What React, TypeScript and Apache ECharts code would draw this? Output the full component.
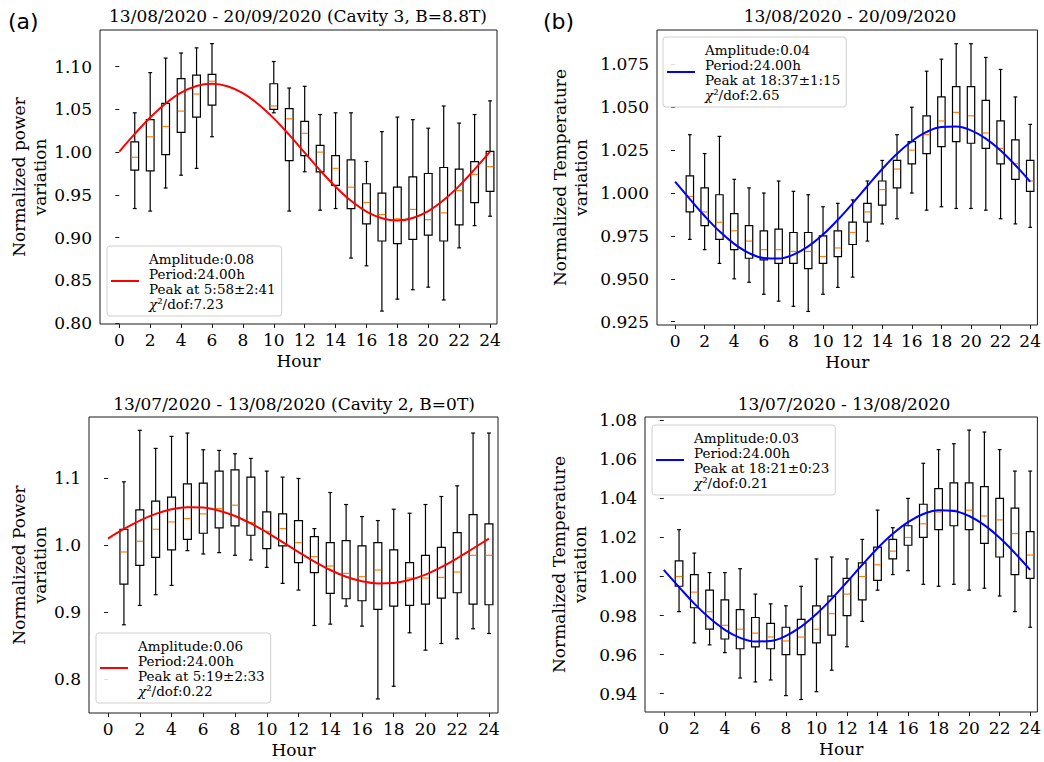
import React, { useEffect, useRef } from "react";
import * as echarts from "echarts";

// ---------- data ----------
const hoursA = [1, 2, 3, 4, 5, 6, 10, 11, 12, 13, 14, 15, 16, 17, 18, 19, 20, 21, 22, 23, 24];
// [low whisker, Q1, median, Q3, high whisker]
const statsA = [
  [0.934, 0.979, 0.994, 1.012, 1.046],
  [0.931, 0.978, 1.018, 1.038, 1.093],
  [0.958, 0.997, 1.030, 1.057, 1.110],
  [0.973, 1.023, 1.048, 1.086, 1.116],
  [0.981, 1.041, 1.068, 1.090, 1.122],
  [1.018, 1.055, 1.083, 1.091, 1.127],
  [1.046, 1.050, 1.054, 1.080, 1.106],
  [0.931, 0.990, 1.039, 1.051, 1.075],
  [0.977, 0.996, 1.022, 1.036, 1.077],
  [0.932, 0.977, 1.000, 1.008, 1.044],
  [0.934, 0.961, 0.981, 0.996, 1.046],
  [0.876, 0.934, 0.959, 0.991, 1.046],
  [0.867, 0.916, 0.941, 0.963, 0.989],
  [0.814, 0.896, 0.927, 0.952, 1.024],
  [0.828, 0.893, 0.922, 0.959, 1.041],
  [0.839, 0.898, 0.933, 0.971, 1.038],
  [0.842, 0.903, 0.921, 0.975, 1.028],
  [0.827, 0.896, 0.929, 0.982, 1.054],
  [0.888, 0.915, 0.955, 0.980, 1.034],
  [0.914, 0.941, 0.974, 0.989, 1.044],
  [0.925, 0.954, 0.983, 1.001, 1.060],
];

const hoursAll = [1, 2, 3, 4, 5, 6, 7, 8, 9, 10, 11, 12, 13, 14, 15, 16, 17, 18, 19, 20, 21, 22, 23, 24];
const statsB = [
  [0.973, 0.989, 0.998, 1.010, 1.034],
  [0.967, 0.981, 0.989, 1.003, 1.023],
  [0.959, 0.973, 0.983, 0.999, 1.033],
  [0.950, 0.967, 0.978, 0.988, 1.008],
  [0.948, 0.962, 0.972, 0.981, 1.003],
  [0.941, 0.961, 0.967, 0.978, 1.000],
  [0.937, 0.959, 0.967, 0.979, 1.007],
  [0.934, 0.959, 0.966, 0.977, 1.001],
  [0.931, 0.956, 0.966, 0.977, 0.999],
  [0.941, 0.959, 0.963, 0.975, 0.992],
  [0.945, 0.963, 0.968, 0.978, 0.994],
  [0.951, 0.970, 0.977, 0.983, 0.996],
  [0.972, 0.983, 0.989, 0.994, 1.007],
  [0.982, 0.993, 1.002, 1.007, 1.019],
  [0.985, 1.003, 1.014, 1.019, 1.034],
  [1.000, 1.017, 1.025, 1.030, 1.050],
  [0.990, 1.023, 1.034, 1.045, 1.071],
  [0.992, 1.027, 1.042, 1.056, 1.078],
  [0.991, 1.030, 1.047, 1.062, 1.087],
  [0.991, 1.029, 1.045, 1.062, 1.087],
  [0.990, 1.026, 1.035, 1.054, 1.079],
  [0.985, 1.017, 1.026, 1.042, 1.072],
  [0.982, 1.008, 1.017, 1.031, 1.056],
  [0.980, 1.001, 1.007, 1.019, 1.040],
];

const statsC = [
  [0.881, 0.942, 0.990, 1.024, 1.095],
  [0.910, 0.970, 1.006, 1.053, 1.172],
  [0.926, 0.982, 1.024, 1.066, 1.145],
  [0.940, 0.993, 1.035, 1.072, 1.163],
  [0.992, 1.009, 1.040, 1.092, 1.168],
  [0.987, 1.018, 1.047, 1.093, 1.143],
  [0.989, 1.026, 1.055, 1.111, 1.142],
  [0.985, 1.029, 1.060, 1.113, 1.137],
  [0.978, 1.015, 1.034, 1.102, 1.130],
  [0.967, 0.995, 1.021, 1.050, 1.111],
  [0.943, 0.999, 1.025, 1.047, 1.102],
  [0.933, 0.974, 1.004, 1.037, 1.100],
  [0.880, 0.959, 0.983, 1.013, 1.025],
  [0.882, 0.928, 0.969, 1.004, 1.079],
  [0.909, 0.920, 0.958, 1.007, 1.061],
  [0.879, 0.917, 0.953, 0.999, 1.043],
  [0.770, 0.904, 0.963, 1.004, 1.037],
  [0.789, 0.909, 0.944, 0.993, 1.054],
  [0.869, 0.910, 0.951, 0.974, 1.048],
  [0.843, 0.912, 0.951, 0.985, 1.061],
  [0.853, 0.921, 0.952, 0.997, 1.073],
  [0.860, 0.929, 0.960, 1.019, 1.089],
  [0.875, 0.912, 0.985, 1.046, 1.168],
  [0.868, 0.911, 0.985, 1.032, 1.168],
];

const statsD = [
  [0.982, 0.995, 1.000, 1.008, 1.024],
  [0.966, 0.984, 0.992, 1.001, 1.012],
  [0.965, 0.973, 0.982, 0.993, 1.002],
  [0.961, 0.968, 0.975, 0.988, 1.002],
  [0.948, 0.963, 0.973, 0.983, 1.004],
  [0.946, 0.964, 0.971, 0.979, 0.991],
  [0.947, 0.963, 0.969, 0.976, 0.986],
  [0.939, 0.960, 0.967, 0.974, 0.985],
  [0.937, 0.960, 0.969, 0.978, 0.995],
  [0.941, 0.966, 0.973, 0.985, 1.009],
  [0.952, 0.970, 0.981, 0.990, 1.010],
  [0.964, 0.980, 0.991, 0.999, 1.009],
  [0.977, 0.988, 1.000, 1.007, 1.019],
  [0.993, 0.998, 1.006, 1.015, 1.034],
  [1.001, 1.009, 1.013, 1.019, 1.025],
  [1.003, 1.016, 1.020, 1.026, 1.040],
  [0.996, 1.020, 1.027, 1.037, 1.058],
  [0.995, 1.024, 1.033, 1.045, 1.065],
  [0.996, 1.026, 1.034, 1.048, 1.068],
  [0.993, 1.024, 1.034, 1.048, 1.075],
  [0.994, 1.017, 1.031, 1.046, 1.074],
  [0.990, 1.010, 1.029, 1.040, 1.065],
  [0.982, 1.001, 1.022, 1.035, 1.054],
  [0.974, 0.999, 1.011, 1.023, 1.054],
];

// fitted sine curves, read at each hour
const fitHours = [0, 1, 2, 3, 4, 5, 6, 7, 8, 9, 10, 11, 12, 13, 14, 15, 16, 17, 18, 19, 20, 21, 22, 23, 24];
const fitA = [1.0006, 1.0213, 1.0405, 1.0570, 1.0696, 1.0774, 1.0800, 1.0771, 1.0690, 1.0561, 1.0395, 1.0201, 0.9994, 0.9787, 0.9595, 0.9430, 0.9304, 0.9226, 0.9200, 0.9229, 0.9310, 0.9439, 0.9605, 0.9799, 1.0006];
const fitB = [1.0066, 0.9965, 0.9866, 0.9777, 0.9704, 0.9650, 0.9621, 0.9618, 0.9641, 0.9689, 0.9758, 0.9844, 0.9940, 1.0041, 1.0140, 1.0229, 1.0302, 1.0356, 1.0385, 1.0388, 1.0365, 1.0317, 1.0248, 1.0162, 1.0066];
const fitC = [1.0101, 1.0244, 1.0370, 1.0470, 1.0539, 1.0571, 1.0564, 1.0518, 1.0438, 1.0327, 1.0194, 1.0048, 0.9899, 0.9756, 0.9630, 0.9530, 0.9461, 0.9429, 0.9436, 0.9482, 0.9562, 0.9673, 0.9806, 0.9952, 1.0101];
const fitD = [1.0034, 0.9946, 0.9861, 0.9787, 0.9727, 0.9686, 0.9667, 0.9670, 0.9696, 0.9743, 0.9808, 0.9886, 0.9972, 1.0060, 1.0145, 1.0219, 1.0279, 1.0320, 1.0340, 1.0336, 1.0310, 1.0263, 1.0198, 1.0120, 1.0034];

const xTicks = [0, 2, 4, 6, 8, 10, 12, 14, 16, 18, 20, 22, 24];
const yTicksA = [0.8, 0.85, 0.9, 0.95, 1.0, 1.05, 1.1];
const yTicksB = [0.925, 0.95, 0.975, 1.0, 1.025, 1.05, 1.075];
const yTicksC = [0.8, 0.9, 1.0, 1.1];
const yTicksD = [0.94, 0.96, 0.98, 1.0, 1.02, 1.04, 1.06, 1.08];

const titles = [
  "13/08/2020 - 20/09/2020 (Cavity 3, B=8.8T)",
  "13/08/2020 - 20/09/2020",
  "13/07/2020 - 13/08/2020 (Cavity 2, B=0T)",
  "13/07/2020 - 13/08/2020",
];
const yNames = [
  "Normalized power\nvariation",
  "Normalized Temperature\nvariation",
  "Normalized Power\nvariation",
  "Normalized Temperature\nvariation",
];
const legendTexts = [
  ["Amplitude:0.08", "Period:24.00h", "Peak at 5:58±2:41", "χ²/dof:7.23"],
  ["Amplitude:0.04", "Period:24.00h", "Peak at 18:37±1:15", "χ²/dof:2.65"],
  ["Amplitude:0.06", "Period:24.00h", "Peak at 5:19±2:33", "χ²/dof:0.22"],
  ["Amplitude:0.03", "Period:24.00h", "Peak at 18:21±0:23", "χ²/dof:0.21"],
];

// ---------- layout ----------
const SERIF = '"DejaVu Serif", serif';
const panels = [
  { grid: [100, 30, 397, 294], x: [-1.25, 24.45], y: [0.7989, 1.1429], yt: yTicksA, dec: 2, hours: hoursA, stats: statsA, fit: fitA, color: "#ff0000", nameGap: 42, legend: [107, 246], title: [298, 16] },
  { grid: [657, 30, 385, 295], x: [-1.22, 24.49], y: [0.9231, 1.095], yt: yTicksB, dec: 3, hours: hoursAll, stats: statsB, fit: fitB, color: "#0000ff", nameGap: 66, legend: [663, 37], title: [850, 16] },
  { grid: [89, 417, 409, 296], x: [-1.2, 24.57], y: [0.749, 1.192], yt: yTicksC, dec: 1, hours: hoursAll, stats: statsC, fit: fitC, color: "#ff0000", nameGap: 31, legend: [96, 633], title: [294, 404] },
  { grid: [645, 417, 398, 295], x: [-1.23, 24.47], y: [0.9306, 1.0817], yt: yTicksD, dec: 2, hours: hoursAll, stats: statsD, fit: fitD, color: "#0000ff", nameGap: 55, legend: [652, 425], title: [844, 404] },
];

const renderBox = (params: any, api: any) => {
  const x = api.value(0);
  const pLo = api.coord([x, api.value(1)]);
  const pQ1 = api.coord([x, api.value(2)]);
  const pMed = api.coord([x, api.value(3)]);
  const pQ3 = api.coord([x, api.value(4)]);
  const pHi = api.coord([x, api.value(5)]);
  const w = api.size([0.5, 0])[0];
  const cw = w / 2;
  const cx = pMed[0];
  const st = { stroke: "#000", lineWidth: 1.2 };
  return {
    type: "group",
    children: [
      { type: "line", shape: { x1: cx, y1: pLo[1], x2: cx, y2: pQ1[1] }, style: st },
      { type: "line", shape: { x1: cx, y1: pQ3[1], x2: cx, y2: pHi[1] }, style: st },
      { type: "line", shape: { x1: cx - cw / 2, y1: pLo[1], x2: cx + cw / 2, y2: pLo[1] }, style: st },
      { type: "line", shape: { x1: cx - cw / 2, y1: pHi[1], x2: cx + cw / 2, y2: pHi[1] }, style: st },
      { type: "rect", shape: { x: cx - w / 2, y: pQ3[1], width: w, height: pQ1[1] - pQ3[1] }, style: { stroke: "#000", lineWidth: 1.2, fill: "none" } },
      { type: "line", shape: { x1: cx - w / 2 + 0.6, y1: pMed[1], x2: cx + w / 2 - 0.6, y2: pMed[1] }, style: { stroke: "#ff7f0e", lineWidth: 1.2 } },
    ],
  };
};

export default function App() {
  const ref = useRef<HTMLDivElement>(null);
  useEffect(() => {
    document.body.style.margin = "0";
    if (!ref.current) return;
    const chart = echarts.init(ref.current, undefined, { renderer: "svg" });
    const fitNames = ["fitA", "fitB", "fitC", "fitD"];
    const option: any = {
      animation: false,
      backgroundColor: "#ffffff",
      grid: panels.map((p) => ({ left: p.grid[0], top: p.grid[1], width: p.grid[2], height: p.grid[3], show: true, borderColor: "#1a1a1a", borderWidth: 1 })),
      xAxis: panels.map((p, i) => ({
        type: "value",
        gridIndex: i,
        min: p.x[0],
        max: p.x[1],
        name: "Hour",
        nameLocation: "middle",
        nameGap: 28,
        nameTextStyle: { fontFamily: SERIF, fontSize: 17, color: "#000" },
        axisLine: { show: false },
        axisTick: { show: true, length: 4, customValues: xTicks, lineStyle: { color: "#1a1a1a" } },
        axisLabel: { customValues: xTicks, formatter: (v: number) => String(Math.round(v)), fontFamily: SERIF, fontSize: 17, color: "#000", margin: 7 },
        splitLine: { show: false },
      })),
      yAxis: panels.map((p, i) => ({
        type: "value",
        gridIndex: i,
        min: p.y[0],
        max: p.y[1],
        name: yNames[i],
        nameLocation: "middle",
        nameGap: p.nameGap,
        nameTextStyle: { fontFamily: SERIF, fontSize: 17, lineHeight: 21, color: "#000" },
        axisLine: { show: false },
        axisTick: { show: true, length: 4, customValues: p.yt, lineStyle: { color: "#1a1a1a" } },
        axisLabel: { customValues: p.yt, formatter: (v: number) => v.toFixed(p.dec), fontFamily: SERIF, fontSize: 17, color: "#000", margin: 8 },
        splitLine: { show: false },
      })),
      legend: panels.map((p, i) => ({
        data: [{ name: fitNames[i], icon: "rect" }],
        left: p.legend[0],
        top: p.legend[1],
        orient: "vertical",
        padding: [5, 6, 5, 4],
        itemWidth: 28,
        itemHeight: 2,
        borderColor: "#cfcfcf",
        borderWidth: 1,
        borderRadius: 3,
        backgroundColor: "rgba(255,255,255,0.85)",
        selectedMode: false,
        formatter: () => {
          const t = legendTexts[i];
          return t[0] + "\n" + t[1] + "\n" + t[2] + "\n{g|χ}" + t[3].slice(1);
        },
        textStyle: {
          fontFamily: SERIF,
          fontSize: 13.5,
          lineHeight: 15,
          color: "#000",
          padding: [0, 0, 0, 5],
          rich: { g: { fontFamily: SERIF, fontSize: 13.5, fontStyle: "italic", lineHeight: 15, color: "#000" } },
        },
      })),
      graphic: [
        ...panels.map((p, i) => ({
          type: "text",
          x: p.title[0],
          y: p.title[1],
          style: { text: titles[i], font: '17px "DejaVu Serif"', fill: "#000", align: "center", verticalAlign: "middle" },
        })),
        { type: "text", x: 8, y: 21, style: { text: "(a)", font: '22px "DejaVu Sans"', fill: "#000", align: "left", verticalAlign: "middle" } },
        { type: "text", x: 543, y: 21, style: { text: "(b)", font: '22px "DejaVu Sans"', fill: "#000", align: "left", verticalAlign: "middle" } },
      ],
      series: [
        ...panels.map((p, i) => ({
          type: "custom",
          xAxisIndex: i,
          yAxisIndex: i,
          silent: true,
          z: 2,
          encode: { x: 0, y: [1, 2, 3, 4, 5] },
          data: p.stats.map((s, k) => [p.hours[k], ...s]),
          renderItem: renderBox,
        })),
        ...panels.map((p, i) => ({
          type: "line",
          name: fitNames[i],
          xAxisIndex: i,
          yAxisIndex: i,
          z: 3,
          smooth: 0.4,
          symbol: "none",
          silent: true,
          data: fitHours.map((h, k) => [h, p.fit[k]]),
          lineStyle: { color: p.color, width: 2 },
          itemStyle: { color: p.color },
        })),
      ],
    };
    chart.setOption(option);
    return () => chart.dispose();
  }, []);
  return <div ref={ref} style={{ width: 1044, height: 762 }} />;
}
